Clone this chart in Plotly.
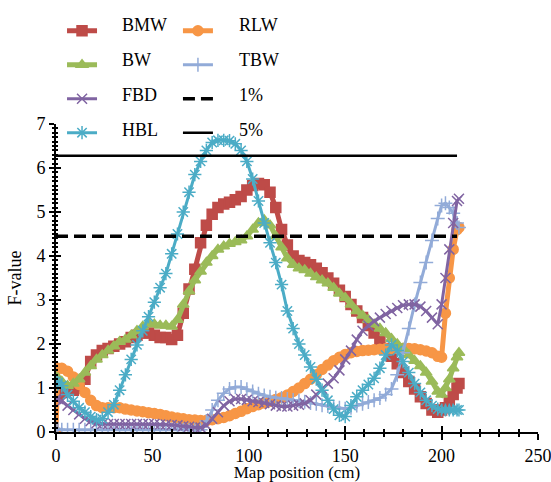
import plotly.graph_objects as go

pos = [0, 1, 3, 6, 9, 12, 15, 18, 21, 24, 27, 30, 33, 36, 39, 42, 45, 48, 51, 54, 57,
       60, 63, 66, 69, 72, 75, 78, 81, 84, 87, 90, 93, 96, 99, 102, 105, 108, 111,
       114, 117, 120, 123, 126, 129, 132, 135, 138, 141, 144, 147, 150, 153, 156,
       159, 162, 165, 168, 171, 174, 177, 180, 183, 186, 189, 192, 195, 198, 200,
       202, 204, 206, 208, 209]

bmw = [0.85, 0.85, 0.9, 0.95, 0.95, 1.0, 1.2, 1.6, 1.75, 1.85, 1.9, 1.95, 2.0, 2.05,
       2.15, 2.2, 2.25, 2.25, 2.2, 2.15, 2.15, 2.1, 2.2, 2.7, 3.25, 3.7, 4.3, 4.7,
       4.95, 5.1, 5.18, 5.22, 5.28, 5.35, 5.5, 5.6, 5.65, 5.62, 5.45, 5.1, 4.6, 4.25,
       4.0, 3.9, 3.85, 3.8, 3.72, 3.62, 3.5, 3.38, 3.22, 3.08, 2.9, 2.75, 2.6, 2.42,
       2.25, 2.05, 1.9, 1.72, 1.55, 1.35, 1.15, 0.98, 0.8, 0.65, 0.5, 0.45, 0.5,
       0.55, 0.7, 0.85, 1.0, 1.1]

bw = [1.25, 1.22, 1.15, 1.05, 1.1, 1.2, 1.35, 1.5, 1.65, 1.75, 1.85, 1.95, 2.05, 2.1,
      2.2, 2.3, 2.4, 2.47, 2.45, 2.42, 2.42, 2.4, 2.55, 2.9, 3.2, 3.45, 3.65, 3.85,
      4.0, 4.15, 4.22, 4.28, 4.32, 4.36, 4.45, 4.6, 4.75, 4.82, 4.7, 4.45, 4.2,
      3.95, 3.8, 3.72, 3.68, 3.6, 3.52, 3.45, 3.38, 3.28, 3.15, 3.05, 2.9, 2.75,
      2.65, 2.55, 2.45, 2.35, 2.25, 2.12, 2.0, 1.9, 1.75, 1.62, 1.5, 1.35, 1.15,
      0.92, 0.85, 1.0, 1.2, 1.45, 1.7, 1.8]

hbl = [1.15, 1.12, 1.05, 0.85, 0.7, 0.55, 0.45, 0.35, 0.28, 0.3, 0.45, 0.62, 0.95,
       1.3, 1.65, 1.98, 2.3, 2.62, 2.95, 3.28, 3.6, 4.05, 4.5, 5.0, 5.45, 5.85, 6.15,
       6.4, 6.58, 6.63, 6.63, 6.62, 6.55, 6.4, 6.15, 5.75, 5.25, 4.75, 4.3, 3.85,
       3.35, 2.75, 2.35, 2.0, 1.75, 1.48, 1.2, 0.95, 0.72, 0.52, 0.38, 0.35, 0.6, 0.8,
       0.95, 1.08, 1.22, 1.45, 1.75, 1.98, 1.85, 1.6, 1.35, 1.1, 0.9, 0.72, 0.6,
       0.52, 0.5, 0.5, 0.5, 0.5, 0.5, 0.5]

rlw = [0.0, 1.45, 1.45, 1.38, 1.25, 1.08, 0.9, 0.72, 0.6, 0.55, 0.55, 0.55, 0.55,
       0.52, 0.5, 0.48, 0.46, 0.44, 0.42, 0.4, 0.37, 0.34, 0.32, 0.3, 0.28, 0.27,
       0.26, 0.26, 0.28, 0.3, 0.33, 0.37, 0.42, 0.47, 0.53, 0.58, 0.62, 0.66, 0.7,
       0.74, 0.78, 0.84, 0.92, 1.0, 1.1, 1.2, 1.3, 1.42, 1.52, 1.62, 1.7, 1.76, 1.8,
       1.83, 1.85, 1.86, 1.87, 1.88, 1.89, 1.9, 1.9, 1.9, 1.9, 1.89, 1.87, 1.84, 1.8,
       1.72, 1.7, 2.7, 3.5, 4.15, 4.6, 4.65]

tbw = [0.08, 0.06, 0.05, 0.05, 0.05, 0.05, 0.05, 0.05, 0.05, 0.05, 0.05, 0.05, 0.05,
       0.05, 0.05, 0.05, 0.05, 0.05, 0.05, 0.05, 0.05, 0.05, 0.05, 0.05, 0.05, 0.05,
       0.05, 0.25, 0.5, 0.72, 0.88, 0.98, 1.02, 1.02, 0.97, 0.92, 0.87, 0.83, 0.8,
       0.78, 0.77, 0.75, 0.73, 0.71, 0.69, 0.66, 0.64, 0.61, 0.59, 0.57, 0.55, 0.53,
       0.55, 0.6, 0.64, 0.68, 0.72, 0.77, 0.85, 0.98, 1.3, 1.8, 2.35, 2.9, 3.4, 3.85,
       4.35, 4.85, 5.15, 5.2, 5.1, 4.97, 4.75, 4.65]

fbd = [0.75, 0.75, 0.7, 0.6, 0.5, 0.4, 0.3, 0.25, 0.2, 0.18, 0.18, 0.18, 0.18, 0.18,
       0.18, 0.18, 0.18, 0.18, 0.18, 0.17, 0.17, 0.16, 0.15, 0.13, 0.12, 0.1, 0.1,
       0.15, 0.3, 0.45, 0.6, 0.7, 0.75, 0.75, 0.73, 0.7, 0.68, 0.66, 0.63, 0.6, 0.58,
       0.58, 0.6, 0.62, 0.65, 0.72, 0.85, 0.98, 1.1, 1.22, 1.4, 1.65, 1.85, 2.1, 2.3,
       2.42, 2.52, 2.6, 2.68, 2.75, 2.82, 2.88, 2.9, 2.9, 2.85, 2.75, 2.6, 2.45, 2.9,
       3.5, 4.15, 4.75, 5.25, 5.3]

thr_x = [0, 208]
thr_1 = [4.45, 4.45]
thr_5 = [6.28, 6.28]

x_ticks = [0, 50, 100, 150, 200, 250]
y_ticks = [0, 1, 2, 3, 4, 5, 6, 7]

legend_col1 = ["BMW", "BW", "FBD", "HBL"]
legend_col2 = ["RLW", "TBW", "1%", "5%"]

FONT = "Times New Roman, Liberation Serif, DejaVu Serif, serif"

fig = go.Figure()


def series(name, ys, color, symbol, legend, size=9, lw=1.5, width=4):
    fig.add_trace(go.Scatter(
        x=pos, y=ys, name=name, mode="lines+markers", legend=legend,
        legendgroup=name,
        line=dict(color=color, width=width),
        marker=dict(symbol=symbol, size=size, color=color,
                    line=dict(color=color, width=lw)),
    ))


series("BMW", bmw, "#BE4B48", "square", "legend", size=10, width=5)
series("RLW", rlw, "#F79646", "circle", "legend2", size=10, width=5)
series("BW", bw, "#9BBB59", "triangle-up", "legend", size=10, width=5)
series("TBW", tbw, "#92ABD8", "cross-thin", "legend2", size=10, lw=1.5, width=3)
series("FBD", fbd, "#8064A2", "x-thin", "legend", size=10, lw=1.5, width=3)
fig.add_trace(go.Scatter(x=thr_x, y=thr_1, name="1%", mode="lines", legend="legend2",
                         legendgroup="1%", xaxis="x2", yaxis="y2",
                         line=dict(color="black", width=3.5, dash="12px,6px")))
series("HBL", hbl, "#4BACC6", "asterisk", "legend", size=11, lw=1.5, width=3)
fig.add_trace(go.Scatter(x=thr_x, y=thr_5, name="5%", mode="lines", legend="legend2",
                         legendgroup="5%", xaxis="x2", yaxis="y2",
                         line=dict(color="black", width=2.5)))

axis_common = dict(showgrid=False, zeroline=False, showline=True, linecolor="black",
                   linewidth=2, tickcolor="black", tickwidth=2)

# legend symbols come from plotly legends; their labels are drawn as serif annotations
legend_style = dict(xanchor="left", yanchor="top", bgcolor="rgba(0,0,0,0)",
                    tracegroupgap=15, itemwidth=30,
                    font=dict(size=1, color="rgba(0,0,0,0)"))

row_y = [1.3214, 1.2078, 1.0942, 0.9805]
annotations = []
for col_x, names in ((0.1328, legend_col1), (0.3755, legend_col2)):
    for yy, nm in zip(row_y, names):
        annotations.append(dict(text=nm, x=col_x, y=yy, xref="paper", yref="paper",
                                xanchor="left", yanchor="middle", showarrow=False,
                                font=dict(family=FONT, size=18, color="black")))

fig.update_layout(
    width=551, height=482,
    margin=dict(l=56, r=13, t=124, b=50, autoexpand=False),
    paper_bgcolor="white", plot_bgcolor="white",
    font=dict(family=FONT, color="black", size=18),
    xaxis=dict(range=[0, 250], tickvals=x_ticks, ticks="outside", ticklen=6,
               ticklabeloverflow="allow",
               minor=dict(dtick=10, ticks="outside", ticklen=3, tickcolor="black", tickwidth=2),
               title=dict(text="Map position (cm)", font=dict(size=17, family=FONT), standoff=12),
               tickfont=dict(size=18, family=FONT), **axis_common),
    yaxis=dict(range=[0, 7], tickvals=y_ticks, ticks="outside", ticklen=5,
               minor=dict(dtick=0.1, ticks="outside", ticklen=2, tickcolor="black", tickwidth=1.5),
               title=dict(text="F-value", font=dict(size=18, family=FONT), standoff=10),
               tickfont=dict(size=18, family=FONT), **axis_common),
    xaxis2=dict(range=[0, 250], overlaying="x", anchor="y2", side="bottom",
                tickvals=x_ticks, ticks="inside", ticklen=6, showticklabels=False,
                minor=dict(dtick=10, ticks="inside", ticklen=3, tickcolor="black", tickwidth=2),
                **axis_common),
    yaxis2=dict(range=[0, 7], overlaying="y", anchor="x2", side="left",
                tickvals=y_ticks, ticks="inside", ticklen=5, showticklabels=False,
                minor=dict(dtick=0.1, ticks="inside", ticklen=2, tickcolor="black", tickwidth=1.5),
                **axis_common),
    legend=dict(x=0.0125, y=1.35, **legend_style),
    legend2=dict(x=0.253, y=1.35, **legend_style),
    annotations=annotations,
    showlegend=True,
)

fig.write_html("out.html", config={"displayModeBar": False},
               post_script="document.body.style.margin='0px';")
